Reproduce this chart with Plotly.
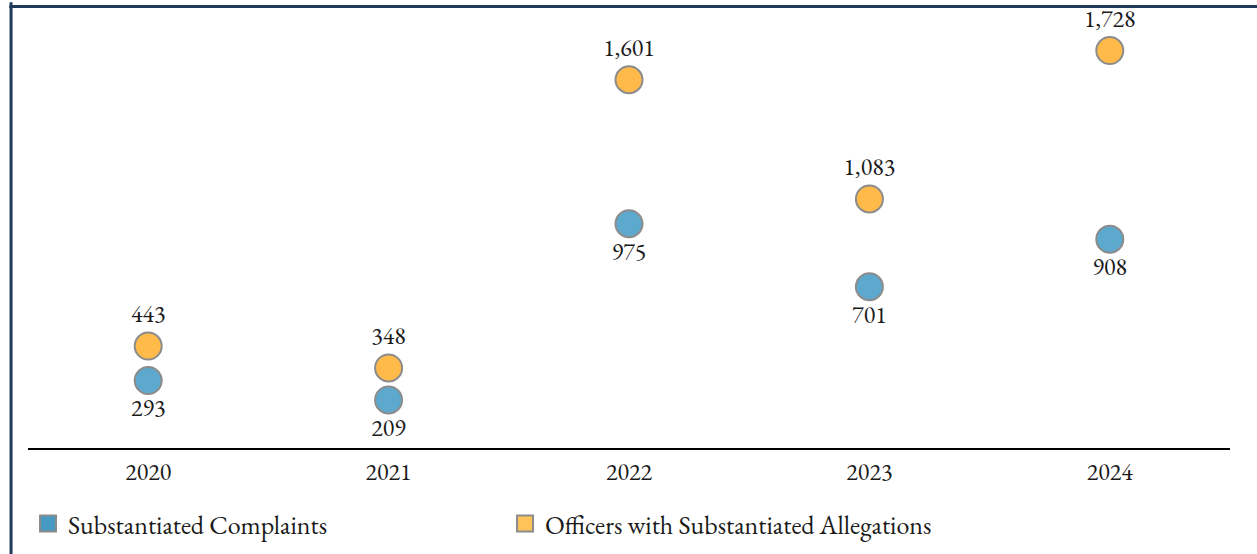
import plotly.graph_objects as go

years = ["2020", "2021", "2022", "2023", "2024"]
complaints = [293, 209, 975, 701, 908]
officers = [443, 348, 1601, 1083, 1728]

BLUE = "#5DA8CD"
ORANGE = "#FFBA4A"
EDGE = "#8C8C8C"
FONT = "Garamond, 'EB Garamond', 'Liberation Serif', serif"

fig = go.Figure()
fig.add_trace(go.Scatter(
    x=years, y=complaints, mode="markers+text",
    marker=dict(size=27, color=BLUE, line=dict(color=EDGE, width=2)),
    text=complaints, texttemplate="%{y:,}", textposition="bottom center",
    textfont=dict(size=24, color="#1a1a1a", family=FONT),
    showlegend=False, cliponaxis=False, hoverinfo="skip"))
fig.add_trace(go.Scatter(
    x=years, y=officers, mode="markers+text",
    marker=dict(size=27, color=ORANGE, line=dict(color=EDGE, width=2)),
    text=officers, texttemplate="%{y:,}", textposition="top center",
    textfont=dict(size=24, color="#1a1a1a", family=FONT),
    showlegend=False, cliponaxis=False, hoverinfo="skip"))

# legend entries with square symbols
fig.add_trace(go.Scatter(
    x=[None], y=[None], mode="markers", name="Substantiated Complaints",
    marker=dict(symbol="square", size=16, color="#4599C3", line=dict(color=EDGE, width=2))))
fig.add_trace(go.Scatter(
    x=[None], y=[None], mode="markers", name="Officers with Substantiated Allegations",
    marker=dict(symbol="square", size=16, color="#FFC35A", line=dict(color=EDGE, width=2))))

fig.update_layout(
    width=1257, height=554, autosize=False,
    plot_bgcolor="white", paper_bgcolor="white",
    margin=dict(l=28, r=27, t=11, b=106, autoexpand=False),
    font=dict(family=FONT, size=24, color="#1a1a1a"),
    legend=dict(orientation="h", xref="container", yref="container",
                x=0.0223, xanchor="left", y=0.0975, yanchor="top",
                entrywidth=432, entrywidthmode="pixels",
                font=dict(size=26, family=FONT), itemsizing="trace"),
    xaxis=dict(type="category", range=[-0.5, 4.5], showgrid=False, zeroline=False,
               showline=True, linecolor="black", linewidth=1.5, ticks="",
               automargin=False,
               ticklabelstandoff=1, tickfont=dict(size=24, family=FONT)),
    yaxis=dict(range=[0, 1900], visible=False, showgrid=False, zeroline=False),
    shapes=[
        dict(type="line", xref="paper", yref="paper", x0=-0.0141, x1=-0.0141, y0=-0.3, y1=1.02,
             line=dict(color="#1F3A5A", width=3)),
        dict(type="line", xref="paper", yref="paper", x0=-0.0155, x1=1.03, y0=1.0103, y1=1.0103,
             line=dict(color="#1F3A5A", width=3)),
    ],
)

fig.write_html("out.html", config={"displayModeBar": False},
               post_script="document.body.style.margin='0';document.body.style.overflow='hidden';")
